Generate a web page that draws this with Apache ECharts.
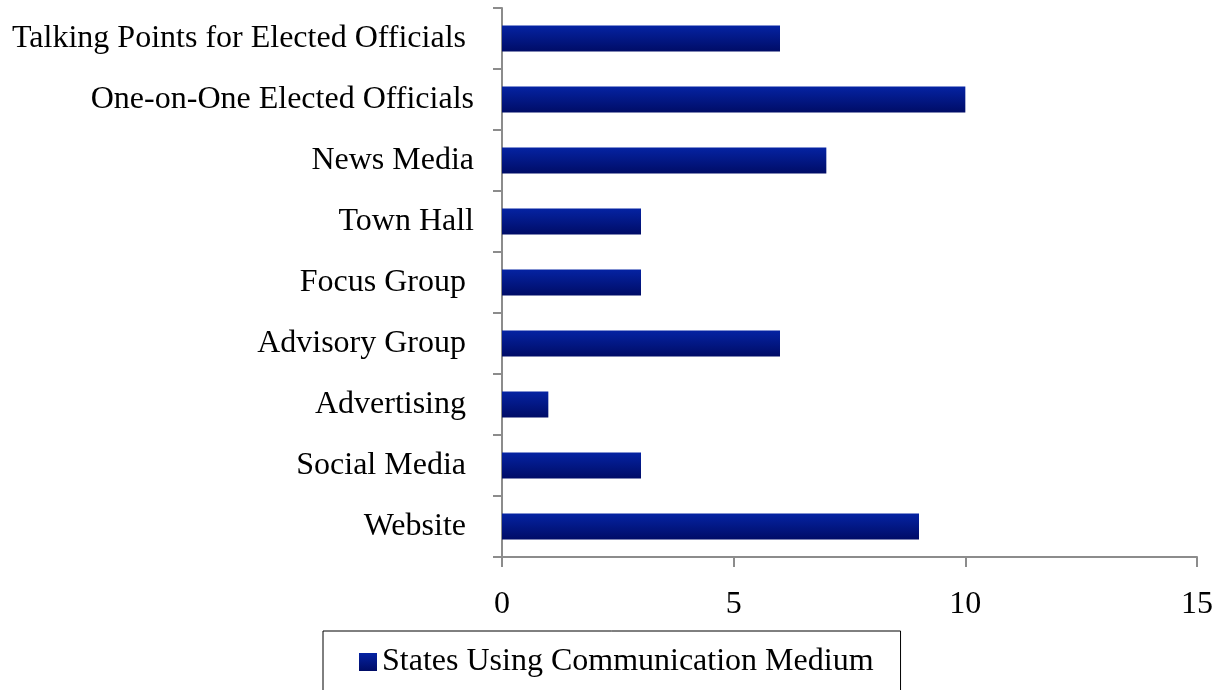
<!DOCTYPE html>
<html>
<head>
<meta charset="utf-8">
<script src="https://cdn.jsdelivr.net/npm/echarts@6/dist/echarts.min.js"></script>
<style>
  html, body { margin: 0; padding: 0; background: #fff; }
  #main { width: 1222px; height: 690px; }
</style>
</head>
<body>
<div id="main"></div>
<script>
// categories listed bottom to top
var categories = ['Website ', 'Social Media ', 'Advertising ', 'Advisory Group ', 'Focus Group ',
  'Town Hall', 'News Media', 'One-on-One Elected Officials', 'Talking Points for Elected Officials '];
var statesUsing = [9, 3, 1, 6, 3, 3, 7, 10, 6];
var seriesName = 'States Using Communication Medium';

var chartDom = document.getElementById('main');
var myChart = echarts.init(chartDom);
var font = '"Liberation Serif", "Times New Roman", serif';
var axisGray = '#8c8c8c';

var option = {
    animation: false,
    textStyle: { fontFamily: font },
    grid: {
        left: 502,
        right: 25,
        top: 8,
        bottom: 133
    },
    legend: {
        data: [{ name: seriesName, icon: 'rect' }],
        left: 323,
        top: 631,
        itemWidth: 18,
        itemHeight: 18,
        itemGap: 6,
        padding: [15, 27, 40, 36],
        borderColor: '#000',
        borderWidth: 1,
        textStyle: { fontFamily: font, fontSize: 32, color: '#000', padding: [0, 0, 0, 0] }
    },
    xAxis: {
        type: 'value',
        min: 0,
        max: 15,
        interval: 5,
        splitLine: { show: false },
        axisLine: { show: true, lineStyle: { color: axisGray, width: 2 } },
        axisTick: { show: true, length: 10, lineStyle: { color: axisGray, width: 2 } },
        axisLabel: { fontFamily: font, fontSize: 32, color: '#000', margin: 32 }
    },
    yAxis: {
        type: 'category',
        data: categories,
        axisLine: { show: true, lineStyle: { color: axisGray, width: 2 } },
        axisTick: { show: true, length: 9, lineStyle: { color: axisGray, width: 2 } },
        axisLabel: { fontFamily: font, fontSize: 32, color: '#000', margin: 28 }
    },
    series: [
        {
            name: seriesName,
            type: 'bar',
            data: statesUsing,
            barWidth: '43%',
            itemStyle: {
                color: new echarts.graphic.LinearGradient(0, 0, 0, 1, [
                    { offset: 0, color: '#0523a3' },
                    { offset: 1, color: '#000c66' }
                ])
            }
        }
    ]
};
option && myChart.setOption(option);
</script>
</body>
</html>
